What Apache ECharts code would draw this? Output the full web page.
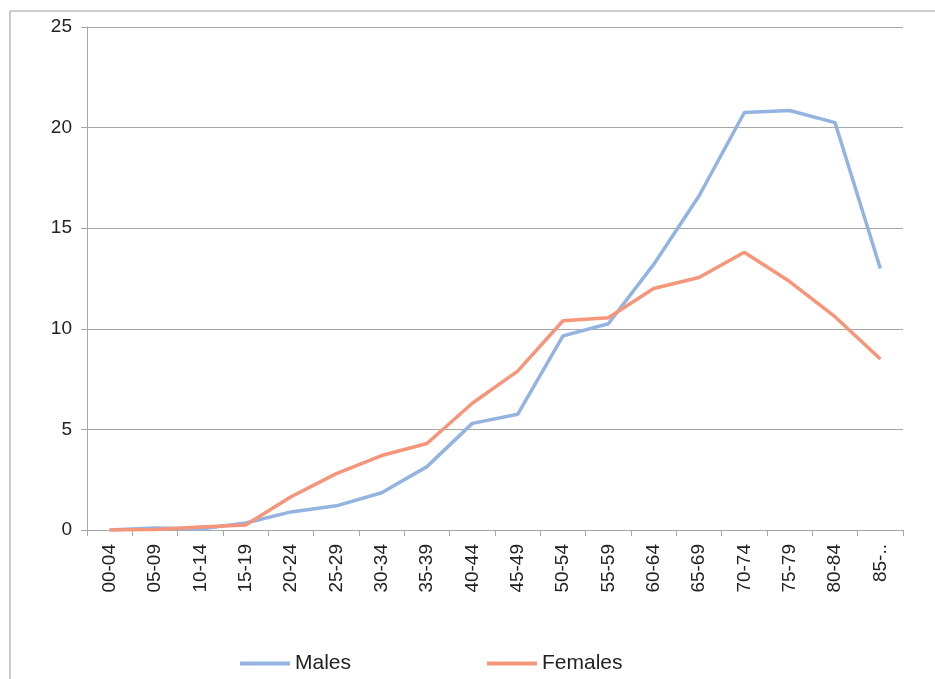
<!DOCTYPE html>
<html>
<head>
<meta charset="utf-8">
<script src="https://cdn.jsdelivr.net/npm/echarts@6/dist/echarts.min.js"></script>
<style>
html, body { margin: 0; padding: 0; background: #fff; }
#chart { width: 935px; height: 679px; }
</style>
</head>
<body>
<div id="chart"></div>
<script>
const ageGroups = ['00-04', '05-09', '10-14', '15-19', '20-24', '25-29', '30-34', '35-39', '40-44',
  '45-49', '50-54', '55-59', '60-64', '65-69', '70-74', '75-79', '80-84', '85-..'];
const males = [0, 0.1, 0.05, 0.35, 0.9, 1.2, 1.85, 3.15, 5.3, 5.75, 9.65, 10.25, 13.2, 16.6, 20.75, 20.85, 20.25, 13.0];
const females = [0, 0.02, 0.15, 0.25, 1.65, 2.8, 3.7, 4.3, 6.3, 7.9, 10.4, 10.55, 12.0, 12.55, 13.8, 12.35, 10.6, 8.5];

const dom = document.getElementById('chart');
const myChart = echarts.init(dom, null, { renderer: 'canvas' });

const font = 'Liberation Sans, Arial, sans-serif';

const option = {
  animation: false,
  textStyle: { fontFamily: font },
  graphic: [
    { type: 'line', shape: { x1: 10, y1: 11, x2: 935, y2: 11 }, style: { stroke: '#9a9a9a', lineWidth: 1 } },
    { type: 'line', shape: { x1: 10, y1: 11, x2: 10, y2: 679 }, style: { stroke: '#9a9a9a', lineWidth: 1 } }
  ],
  grid: { left: 87, right: 32, top: 27, bottom: 149 },
  legend: {
    left: 235,
    top: 648,
    itemWidth: 50,
    itemHeight: 4,
    itemGap: 136,
    icon: 'rect',
    textStyle: { fontSize: 21, color: '#222', fontFamily: font },
    data: ['Males', 'Females']
  },
  xAxis: {
    type: 'category',
    data: ageGroups,
    boundaryGap: true,
    axisLine: { lineStyle: { color: '#a6a6a6', width: 1 } },
    axisTick: { show: true, length: 6, lineStyle: { color: '#a6a6a6' } },
    axisLabel: { rotate: 90, fontSize: 19, color: '#222', margin: 14, fontFamily: font }
  },
  yAxis: {
    type: 'value',
    min: 0,
    max: 25,
    interval: 5,
    axisLine: { show: true, lineStyle: { color: '#a6a6a6', width: 1 } },
    axisTick: { show: true, length: 6, lineStyle: { color: '#a6a6a6' } },
    axisLabel: { fontSize: 19, color: '#222', margin: 15, fontFamily: font },
    splitLine: { lineStyle: { color: '#a6a6a6', width: 1 } }
  },
  series: [
    {
      name: 'Males',
      type: 'line',
      data: males,
      symbol: 'none',
      color: '#93b3e1',
      lineStyle: { width: 3.5, color: '#93b3e1' }
    },
    {
      name: 'Females',
      type: 'line',
      data: females,
      symbol: 'none',
      color: '#f59579',
      lineStyle: { width: 3.5, color: '#f59579' }
    }
  ]
};

myChart.setOption(option);
window.addEventListener('resize', myChart.resize);
</script>
</body>
</html>
